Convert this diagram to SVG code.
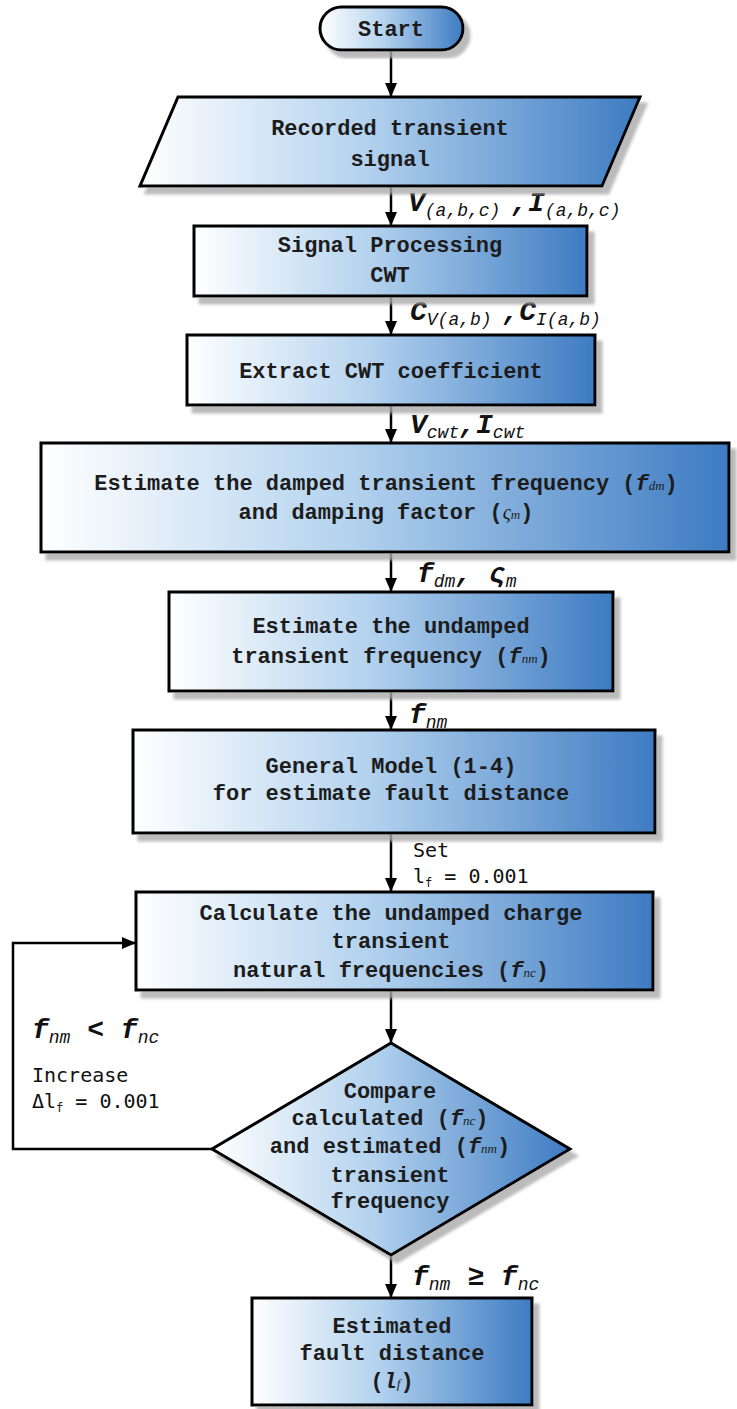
<svg xmlns="http://www.w3.org/2000/svg" width="737" height="1409" viewBox="0 0 737 1409">
  <defs>
    <linearGradient id="fillBlue" x1="0" y1="0" x2="1" y2="0">
      <stop offset="0" stop-color="#ffffff"/>
      <stop offset="0.45" stop-color="#b3d2ee"/>
      <stop offset="1" stop-color="#3d7bc2"/>
    </linearGradient>
    <filter id="shadow" x="-5%" y="-5%" width="115%" height="125%">
      <feOffset in="SourceAlpha" dx="6" dy="7" result="off"/>
      <feGaussianBlur in="off" stdDeviation="1.5" result="blur"/>
      <feFlood flood-color="#aaaaaa" flood-opacity="0.8"/>
      <feComposite in2="blur" operator="in" result="sh"/>
      <feMerge>
        <feMergeNode in="sh"/>
        <feMergeNode in="SourceGraphic"/>
      </feMerge>
    </filter>
    <marker id="arrow" viewBox="0 0 14 12" refX="14" refY="6" markerWidth="14" markerHeight="12" markerUnits="userSpaceOnUse" orient="auto">
      <path d="M0,0 L14,6 L0,12 z" fill="#000"/>
    </marker>
    <style>
      .shape { fill: url(#fillBlue); stroke: #000; stroke-width: 3; filter: url(#shadow); }
      .node { font-family: "Liberation Mono", "Courier New", monospace; font-weight: bold; font-size: 22px; fill: #1c1c1c; text-anchor: middle; }
      .nsub { font-family: "Liberation Serif", serif; font-style: italic; font-weight: normal; font-size: 13px; }
      .nvar { font-style: italic; }
      .lab { font-family: "Liberation Mono", "Courier New", monospace; font-weight: bold; font-style: italic; font-size: 28px; fill: #111; }
      .sub { font-weight: normal; font-size: 18px; }
      .plain { font-family: "DejaVu Sans Mono", "Liberation Mono", monospace; font-size: 20px; fill: #111; }
      .psub { font-size: 12px; }
      .conn { stroke: #000; stroke-width: 2.5; fill: none; }
    </style>
  </defs>

  <!-- connectors -->
  <g id="connectors">
    <line class="conn" x1="391" y1="50" x2="391" y2="97" marker-end="url(#arrow)"/>
    <line class="conn" x1="391" y1="186" x2="391" y2="226" marker-end="url(#arrow)"/>
    <line class="conn" x1="391" y1="296" x2="391" y2="335" marker-end="url(#arrow)"/>
    <line class="conn" x1="391" y1="405" x2="391" y2="443" marker-end="url(#arrow)"/>
    <line class="conn" x1="391" y1="552" x2="391" y2="592" marker-end="url(#arrow)"/>
    <line class="conn" x1="391" y1="691" x2="391" y2="730" marker-end="url(#arrow)"/>
    <line class="conn" x1="391" y1="833" x2="391" y2="892" marker-end="url(#arrow)"/>
    <line class="conn" x1="391" y1="990" x2="391" y2="1043" marker-end="url(#arrow)"/>
    <polyline class="conn" points="212,1149 13,1149 13,943 136,943" marker-end="url(#arrow)"/>
    <line class="conn" x1="391" y1="1255" x2="391" y2="1298" marker-end="url(#arrow)"/>

    <!-- connector labels -->
    <text class="lab" x="408" y="211">V<tspan class="sub" dy="5">(a,b,c) </tspan><tspan dy="-5">,I</tspan><tspan class="sub" dy="5">(a,b,c)</tspan></text>
    <text class="lab" x="410" y="320">C<tspan class="sub" dy="5">V(a,b) </tspan><tspan dy="-5">,C</tspan><tspan class="sub" dy="5">I(a,b)</tspan></text>
    <text class="lab" x="410" y="433">V<tspan class="sub" dy="5">cwt</tspan><tspan dy="-5">,I</tspan><tspan class="sub" dy="5">cwt</tspan></text>
    <text class="lab" x="417" y="582">f<tspan class="sub" dy="5">dm</tspan><tspan dy="-5">, ς</tspan><tspan class="sub" dy="5">m</tspan></text>
    <text class="lab" x="409" y="723">f<tspan class="sub" dy="5">nm</tspan></text>
    <text class="plain" x="413" y="857">Set</text>
    <text class="plain" x="413" y="883">l<tspan class="psub" dy="4">f</tspan><tspan dy="-4"> = 0.001</tspan></text>
    <text class="lab" x="32" y="1038">f<tspan class="sub" dy="5">nm</tspan><tspan dy="-5"> &lt; f</tspan><tspan class="sub" dy="5">nc</tspan></text>
    <text class="plain" x="32" y="1082">Increase</text>
    <text class="plain" x="32" y="1108">Δl<tspan class="psub" dy="4">f</tspan><tspan dy="-4"> = 0.001</tspan></text>
    <text class="lab" x="412" y="1285">f<tspan class="sub" dy="5">nm</tspan><tspan dy="-5"> ≥ f</tspan><tspan class="sub" dy="5">nc</tspan></text>
  </g>

  <g id="start">
    <rect class="shape" x="320" y="7" width="143" height="43" rx="21.5"/>
    <text class="node" x="391" y="36">Start</text>
  </g>

  <g id="recorded-signal">
    <polygon class="shape" points="178,97 640,97 602,186 140,186"/>
    <text class="node" x="390" y="135">Recorded transient</text>
    <text class="node" x="390" y="166">signal</text>
  </g>

  <g id="signal-processing">
    <rect class="shape" x="194" y="226" width="393" height="70"/>
    <text class="node" x="390" y="252">Signal Processing</text>
    <text class="node" x="390" y="282">CWT</text>
  </g>

  <g id="extract-cwt">
    <rect class="shape" x="187" y="335" width="408" height="70"/>
    <text class="node" x="391" y="378">Extract CWT coefficient</text>
  </g>

  <g id="damped-frequency">
    <rect class="shape" x="41" y="443" width="688" height="109"/>
    <text class="node" x="386" y="490">Estimate the damped transient frequency (<tspan class="nvar">f</tspan><tspan class="nsub">dm</tspan>)</text>
    <text class="node" x="386" y="519">and damping factor (<tspan class="nvar" font-weight="normal" font-family="Liberation Serif" font-size="20">ς</tspan><tspan class="nsub">m</tspan>)</text>
  </g>

  <g id="undamped-frequency">
    <rect class="shape" x="169" y="592" width="444" height="99"/>
    <text class="node" x="391" y="633">Estimate the undamped</text>
    <text class="node" x="391" y="663">transient frequency (<tspan class="nvar">f</tspan><tspan class="nsub">nm</tspan>)</text>
  </g>

  <g id="general-model">
    <rect class="shape" x="133" y="730" width="522" height="103"/>
    <text class="node" x="391" y="773">General Model (1-4)</text>
    <text class="node" x="391" y="800">for estimate fault distance</text>
  </g>

  <g id="calculate-natural">
    <rect class="shape" x="136" y="892" width="517" height="98"/>
    <text class="node" x="391" y="920">Calculate the undamped charge</text>
    <text class="node" x="391" y="948">transient</text>
    <text class="node" x="391" y="977">natural frequencies (<tspan class="nvar">f</tspan><tspan class="nsub">nc</tspan>)</text>
  </g>

  <g id="compare">
    <polygon class="shape" points="391,1043 570,1149 391,1255 212,1149"/>
    <text class="node" x="390" y="1098">Compare</text>
    <text class="node" x="390" y="1125">calculated (<tspan class="nvar">f</tspan><tspan class="nsub">nc</tspan>)</text>
    <text class="node" x="390" y="1153">and estimated (<tspan class="nvar">f</tspan><tspan class="nsub">nm</tspan>)</text>
    <text class="node" x="390" y="1182">transient</text>
    <text class="node" x="390" y="1208">frequency</text>
  </g>

  <g id="fault-distance">
    <rect class="shape" x="252" y="1298" width="280" height="107"/>
    <text class="node" x="392" y="1333">Estimated</text>
    <text class="node" x="392" y="1360">fault distance</text>
    <text class="node" x="392" y="1388">(<tspan class="nvar">l</tspan><tspan class="nsub">f</tspan>)</text>
  </g>
</svg>
